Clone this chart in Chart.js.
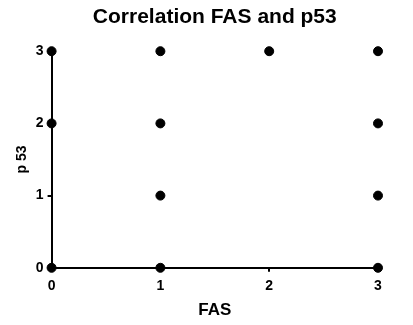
<!DOCTYPE html>
<html>
<head>
<meta charset="utf-8">
<script src="https://cdn.jsdelivr.net/npm/chart.js@4"></script>
<style>
  html, body { margin: 0; padding: 0; background: #fff; }
  #wrap { width: 413px; height: 325px; }
</style>
</head>
<body>
<div id="wrap"><canvas id="chart"></canvas></div>
<script>
// FAS score vs p53 score (one dot per observed combination)
const fasValues = [0, 0, 0, 1, 1, 1, 1, 2, 3, 3, 3, 3];
const p53Values = [3, 2, 0, 3, 2, 1, 0, 3, 3, 2, 1, 0];
const tickValues = [0, 1, 2, 3];

const points = fasValues.map((x, i) => ({ x: x, y: p53Values[i] }));

const font = size => ({ family: 'Liberation Sans, Arial, sans-serif', weight: 'bold', size: size });

// center the title over the plot area instead of the whole canvas
const titleOverPlot = {
    id: 'titleOverPlot',
    afterLayout(chart) {
        if (chart.titleBlock) {
            chart.titleBlock.left = chart.chartArea.left;
            chart.titleBlock.right = chart.chartArea.right;
        }
    }
};

new Chart(document.getElementById('chart'), {
    type: 'scatter',
    data: {
        datasets: [{
            data: points,
            backgroundColor: '#000',
            borderColor: '#000',
            pointRadius: 4.5,
            pointHoverRadius: 4.5,
            clip: false
        }]
    },
    options: {
        responsive: true,
        maintainAspectRatio: false,
        animation: false,
        layout: { padding: { left: 14, right: 35, top: 0, bottom: 4 } },
        plugins: {
            legend: { display: false },
            tooltip: { enabled: false },
            title: {
                display: true,
                text: 'Correlation FAS and p53',
                color: '#000',
                font: font(21),
                padding: { top: 5, bottom: 21 }
            }
        },
        scales: {
            x: {
                type: 'linear',
                min: 0,
                max: 3,
                afterBuildTicks: axis => { axis.ticks = tickValues.map(v => ({ value: v })); },
                grid: { display: true, drawOnChartArea: false, drawTicks: true, tickLength: 4, color: '#000', lineWidth: 2 },
                border: { display: true, color: '#000', width: 2 },
                ticks: { color: '#000', font: font(14), padding: 6 },
                title: { display: true, text: 'FAS', color: '#000', font: font(17), padding: { top: 0, bottom: 0 } }
            },
            y: {
                type: 'linear',
                min: 0,
                max: 3,
                afterBuildTicks: axis => { axis.ticks = tickValues.map(v => ({ value: v })); },
                grid: { display: true, drawOnChartArea: false, drawTicks: true, tickLength: 4, color: '#000', lineWidth: 2 },
                border: { display: true, color: '#000', width: 2 },
                ticks: { color: '#000', font: font(14), padding: 4 },
                title: { display: true, text: 'p 53', color: '#000', font: font(14), padding: { top: 0, bottom: 1 } }
            }
        }
    },
    plugins: [titleOverPlot]
});
</script>
</body>
</html>
